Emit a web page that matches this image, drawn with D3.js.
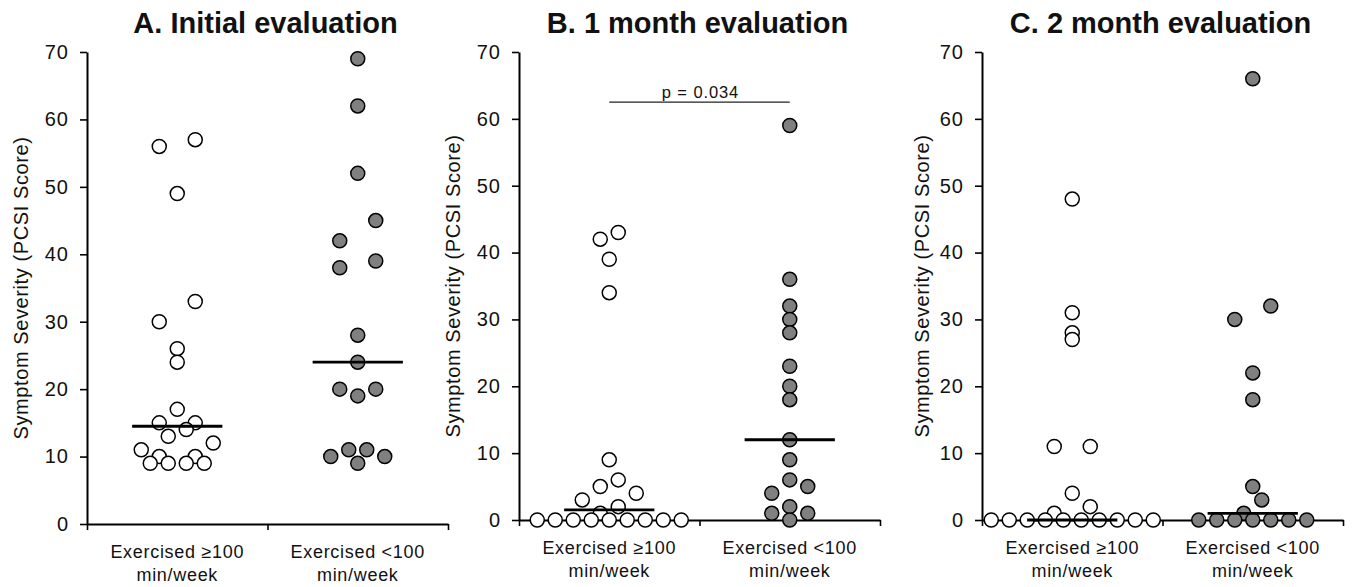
<!DOCTYPE html>
<html>
<head>
<meta charset="utf-8">
<script src="https://cdn.jsdelivr.net/npm/d3@7"></script>
<style>
  body { margin: 0; background: #fff; }
  text { font-family: "Liberation Sans", Arial, sans-serif; fill: #111; }
</style>
</head>
<body>
<svg class="chart" width="1352" height="587"></svg>
<script>
// group labels (two lines each) and y ticks
const groupLabels = [["Exercised \u2265100", "min/week"], ["Exercised <100", "min/week"]];
const yTicks = [0, 10, 20, 30, 40, 50, 60, 70];
const panelTitles = ["A. Initial evaluation", "B. 1 month evaluation", "C. 2 month evaluation"];

// PCSI scores, with the dot-plot column (slot) of each point
const initialHigh     = [56, 57, 49, 33, 30, 26, 24, 17, 15, 15, 14, 13, 12, 11, 10, 10, 9, 9, 9, 9];
const initialHighSlot = [-2, 2, 0, 2, -2, 0, 0, 0, -2, 2, 1, -1, 4, -4, -2, 2, -3, -1, 1, 3];
const initialLow      = [69, 62, 52, 45, 42, 39, 38, 28, 24, 20, 20, 19, 11, 11, 10, 10, 9];
const initialLowSlot  = [0, 0, 0, 2, -2, 2, -2, 0, 0, -2, 2, 0, -1, 1, -3, 3, 0];

const month1High     = [43, 42, 39, 34, 9, 6, 5, 4, 3, 2, 1, 0, 0, 0, 0, 0, 0, 0, 0, 0];
const month1HighSlot = [1, -1, 0, 0, 0, 1, -1, 3, -3, 1, -1, -8, -6, -4, -2, 0, 2, 4, 6, 8];
const month1Low      = [59, 36, 32, 30, 28, 23, 20, 18, 12, 9, 6, 5, 4, 2, 1, 1, 0];
const month1LowSlot  = [0, 0, 0, 0, 0, 0, 0, 0, 0, 0, 0, 2, -2, 0, -2, 2, 0];

const month2High     = [48, 31, 28, 27, 11, 11, 4, 2, 1, 0, 0, 0, 0, 0, 0, 0, 0, 0, 0];
const month2HighSlot = [0, 0, 0, 0, -2, 2, 0, 2, -2, -9, -7, -5, -3, -1, 1, 3, 5, 7, 9];
const month2Low      = [66, 32, 30, 22, 18, 5, 3, 1, 0, 0, 0, 0, 0, 0, 0];
const month2LowSlot  = [0, 2, -2, 0, 0, 0, 1, -1, -6, -4, -2, 0, 2, 4, 6];

const pText = "p = 0.034";
const pLevel = 62.5; // height of the bracket, in score units

const svg = d3.select(".chart");

// panel frames (x from axis to axis end, y from 0 to 70)
const panels = [
  { x0: 87,  x1: 448,  y0: 524, y1: 52, labelGap: 59, groups: [[initialHigh, initialHighSlot], [initialLow, initialLowSlot]] },
  { x0: 519, x1: 880,  y0: 520, y1: 52, labelGap: 59, groups: [[month1High, month1HighSlot], [month1Low, month1LowSlot]], p: true },
  { x0: 982, x1: 1343, y0: 520, y1: 52, labelGap: 53, groups: [[month2High, month2HighSlot], [month2Low, month2LowSlot]] }
];

const slotScale = d3.scaleLinear().domain([-1, 1]).range([-9, 9]); // one slot = half a dot step
const fills = ["#ffffff", "#808080"];

panels.forEach((p, pi) => {
  const x = d3.scaleLinear().domain([0, 2]).range([p.x0, p.x1]);
  const y = d3.scaleLinear().domain([0, 70]).range([p.y0, p.y1]);
  const g = svg.append("g");

  // title
  g.append("text")
    .attr("x", (p.x0 + p.x1) / 2 - 2)
    .attr("y", 33)
    .attr("text-anchor", "middle")
    .style("font-size", "29px")
    .style("font-weight", "bold")
    .text(panelTitles[pi]);

  // y axis
  const ya = g.append("g")
    .attr("transform", `translate(${p.x0},0)`)
    .call(d3.axisLeft(y).tickValues(yTicks).tickSize(7).tickSizeOuter(0).tickPadding(11));
  ya.selectAll("text")
    .style("font-size", "20px")
    .style("letter-spacing", "1px")
    .attr("fill", "#111");

  // x axis, ticks at group boundaries
  const xa = g.append("g")
    .attr("transform", `translate(0,${p.y0})`)
    .call(d3.axisBottom(x).tickValues([0, 1, 2]).tickSize(6).tickSizeOuter(0).tickFormat(""));

  [ya, xa].forEach(a => {
    a.select(".domain").attr("stroke", "#000").attr("stroke-width", 2);
    a.selectAll(".tick line").attr("stroke", "#000").attr("stroke-width", 1.6);
  });

  // group labels
  const lab = g.selectAll(".glabel")
    .data(groupLabels)
    .join("text")
    .attr("class", "glabel")
    .attr("text-anchor", "middle")
    .style("font-size", "18px")
    .style("letter-spacing", "0.7px")
    .attr("transform", (d, i) => `translate(${x(i + 0.5)},${p.y0 + 34})`);
  lab.selectAll("tspan")
    .data(d => d)
    .join("tspan")
    .attr("x", 0)
    .attr("y", (d, i) => i * 22.5)
    .text(d => d);

  // y label
  g.append("text")
    .attr("transform", `translate(${p.x0 - p.labelGap},${(p.y0 + p.y1) / 2}) rotate(-90)`)
    .attr("text-anchor", "middle")
    .style("font-size", "20px")
    .style("letter-spacing", "0.6px")
    .text("Symptom Severity (PCSI Score)");

  // dots
  p.groups.forEach(([vals, slots], gi) => {
    const pts = vals.map((v, i) => ({ v, s: slots[i] }));
    g.selectAll(".dot" + gi)
      .data(pts)
      .join("circle")
      .attr("class", "dot" + gi)
      .attr("cx", d => x(gi + 0.5) + slotScale(d.s))
      .attr("cy", d => y(d.v))
      .attr("r", 7)
      .attr("fill", fills[gi])
      .attr("stroke", "#000")
      .attr("stroke-width", 1.5);

    // median bar
    const med = d3.median(vals);
    g.append("line")
      .attr("x1", x(gi + 0.25))
      .attr("x2", x(gi + 0.75))
      .attr("y1", y(med))
      .attr("y2", y(med))
      .attr("stroke", "#000")
      .attr("stroke-width", 2.8);
  });

  // significance bracket
  if (p.p) {
    g.append("line")
      .attr("x1", x(0.5)).attr("x2", x(1.5))
      .attr("y1", y(pLevel)).attr("y2", y(pLevel))
      .attr("stroke", "#222").attr("stroke-width", 1.2);
    g.append("text")
      .attr("x", x(1) + 1)
      .attr("y", y(pLevel) - 4)
      .attr("text-anchor", "middle")
      .style("font-size", "16.5px")
      .style("letter-spacing", "0.9px")
      .text(pText);
  }
});
</script>
</body>
</html>
